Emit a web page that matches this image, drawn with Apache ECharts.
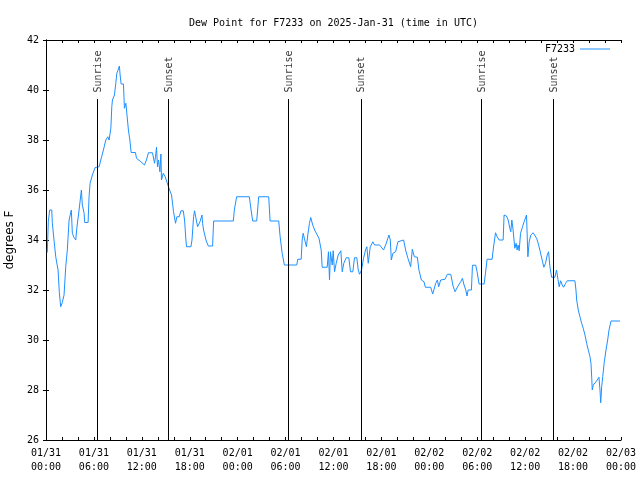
<!DOCTYPE html>
<html>
<head>
<meta charset="utf-8">
<script src="https://cdn.jsdelivr.net/npm/echarts@6/dist/echarts.min.js"></script>
<style>html,body{margin:0;padding:0;background:#fff}#c{width:640px;height:480px}</style>
</head>
<body>
<div id="c"></div>
<script>
// hours since 01/31 00:00 UTC
const hours = [0.16,0.29,0.46,0.72,0.79,1.00,1.22,1.51,1.67,1.84,2.04,2.26,2.47,2.67,2.89,3.17,3.30,3.51,3.73,3.85,4.14,4.43,4.55,4.77,4.85,5.27,5.39,5.52,5.81,6.15,6.65,6.86,7.19,7.49,7.74,7.90,8.12,8.24,8.32,8.57,8.74,8.87,9.03,9.19,9.28,9.41,9.70,9.82,10.00,10.12,10.32,10.50,10.66,11.20,11.33,11.88,12.33,12.58,12.83,13.33,13.59,13.71,13.84,13.96,14.09,14.26,14.39,14.46,14.68,14.93,15.22,15.43,15.72,15.97,16.22,16.39,16.68,16.90,17.19,17.35,17.52,17.60,18.15,18.28,18.48,18.60,18.85,18.98,19.28,19.53,19.61,19.73,20.03,20.32,20.86,20.99,23.46,23.58,23.87,25.46,25.68,25.88,26.38,26.50,26.63,27.89,28.06,29.14,29.32,29.57,29.85,31.40,31.52,31.95,32.08,32.20,32.40,32.61,32.78,32.99,33.15,33.40,33.68,33.93,34.18,34.46,34.58,35.21,35.37,35.50,35.62,35.84,35.96,36.13,36.34,36.59,36.92,37.09,37.29,37.59,37.92,38.13,38.42,38.63,38.92,39.10,39.26,39.51,39.76,40.01,40.18,40.35,40.60,40.93,41.14,41.77,42.27,42.61,42.81,42.94,43.11,43.24,43.44,43.78,44.07,44.19,44.78,45.03,45.32,45.66,45.87,46.12,46.50,46.70,47.00,47.33,47.50,48.17,48.42,48.80,49.01,49.17,49.42,49.96,50.26,50.68,50.97,51.22,51.59,51.93,52.14,52.35,52.56,52.72,52.85,53.27,53.40,53.81,53.98,54.23,54.86,55.03,55.23,55.86,56.07,56.29,56.49,56.74,57.24,57.36,57.66,57.87,58.08,58.20,58.33,58.49,58.70,58.87,58.99,59.12,59.25,59.42,59.67,59.87,60.17,60.34,60.50,60.71,61.00,61.21,61.43,61.63,61.84,62.18,62.34,62.55,62.76,62.93,63.10,63.31,63.72,63.93,64.10,64.26,64.44,64.64,64.81,65.07,65.27,66.23,66.36,66.45,66.65,66.86,67.07,67.27,67.49,67.70,67.90,68.12,68.24,68.33,68.40,68.53,68.87,69.24,69.37,69.46,69.58,69.71,69.91,70.12,70.33,70.50,70.75,71.88];
const dewPoint = [33.5,34.73,35.2,35.2,34.7,34.0,33.33,32.8,31.9,31.33,31.5,31.8,32.93,33.6,34.8,35.2,34.27,34.1,34.0,34.45,35.2,36.0,35.4,35.07,34.7,34.7,35.73,36.27,36.6,36.9,36.93,37.2,37.6,38.0,38.13,38.0,38.47,39.33,39.6,39.8,40.27,40.67,40.8,40.96,40.6,40.24,40.24,39.27,39.47,39.53,38.4,38.0,37.5,37.5,37.27,37.13,37.0,37.2,37.49,37.49,37.07,37.33,37.71,36.93,37.2,36.73,37.44,36.4,36.67,36.53,36.24,36.04,35.8,35.13,34.67,34.93,34.93,35.17,35.17,34.8,34.0,33.73,33.73,34.0,34.93,35.17,35.17,34.53,34.73,35.0,34.67,34.4,34.0,33.76,33.76,34.76,34.76,35.2,35.73,35.73,35.2,34.76,34.76,35.2,35.73,35.73,34.76,34.76,34.13,33.47,33.0,33.0,33.23,33.23,34.0,34.27,34.0,33.73,34.2,34.67,34.9,34.6,34.37,34.33,34.07,33.6,32.91,32.91,33.53,32.4,33.53,33.0,33.57,32.73,33.07,33.4,33.57,32.73,33.07,33.29,33.29,32.73,32.73,33.29,33.29,32.8,32.63,32.8,33.27,33.6,33.73,33.07,33.73,33.93,33.8,33.8,33.6,33.87,34.07,34.2,34.0,33.2,33.47,33.53,33.93,34.0,34.0,33.6,33.27,32.93,33.63,33.33,33.31,32.8,32.4,32.33,32.11,32.11,31.84,32.27,32.4,32.13,32.4,32.43,32.63,32.63,32.16,31.93,32.16,32.33,32.47,32.2,32.0,31.76,32.0,32.0,32.99,32.99,32.73,32.24,32.24,32.67,33.23,33.23,33.8,34.29,34.13,34.0,34.0,35.0,34.96,34.8,34.47,34.33,34.8,34.4,33.67,33.87,33.6,33.8,33.57,34.27,34.53,34.73,35.0,33.33,33.93,34.2,34.29,34.33,34.07,33.87,33.6,33.13,32.91,33.07,33.4,33.53,32.93,32.51,32.51,32.8,32.43,32.13,32.37,32.2,32.11,32.27,32.37,32.37,32.0,31.6,31.2,30.93,30.67,30.47,30.2,29.87,29.6,29.33,29.07,28.51,28.0,28.2,28.33,28.51,28.0,27.49,28.13,28.53,29.13,29.6,30.0,30.4,30.76,30.76];
const eventHours = [6.43, 15.34, 30.39, 39.43, 54.48, 63.51];
const eventNames = ['Sunrise','Sunset','Sunrise','Sunset','Sunrise','Sunset'];
const dayLabels = ['01/31','02/01','02/02','02/03'];
const seriesName = 'F7233';

const FONT = 'DejaVu Sans Mono';
const lineData = hours.map((h, i) => [h, dewPoint[i]]);
const eventLabelData = eventHours.map((h, i) => [h + 0.12, 39.9, eventNames[i]]);
const eventLines = eventHours.map(h => [{coord: [h, 26]}, {coord: [h, 39.64]}]);

function xLabel(v) {
  const d = Math.floor(v / 24);
  const hh = Math.round(v - d * 24);
  return dayLabels[d] + '\n' + String(hh).padStart(2, '0') + ':00';
}

const axisCommon = {
  axisLine: {show: true, lineStyle: {color: '#000', width: 1}},
  splitLine: {show: false}
};

const chart = echarts.init(document.getElementById('c'), null, {renderer: 'canvas'});
chart.setOption({
  animation: false,
  backgroundColor: '#fff',
  title: {
    text: 'Dew Point for F7233 on 2025-Jan-31 (time in UTC)',
    left: 184, top: 13,
    textStyle: {fontFamily: FONT, fontSize: 10, fontWeight: 'normal', color: '#000'}
  },
  legend: {
    data: [{name: seriesName, icon: 'rect'}],
    right: 30, top: 44, padding: 0,
    align: 'right',
    itemWidth: 30, itemHeight: 1,
    itemStyle: {color: '#1E90FF'},
    textStyle: {fontFamily: FONT, fontSize: 10, color: '#000'}
  },
  grid: {left: 46, right: 19, top: 40, bottom: 40, containLabel: false, outerBoundsMode: 'none'},
  xAxis: [
    Object.assign({}, axisCommon, {
      type: 'value', min: 0, max: 72, interval: 6, position: 'bottom',
      axisTick: {show: true, inside: true, length: 3, lineStyle: {color: '#000'}},
      minorTick: {show: true, splitNumber: 3, length: 3, lineStyle: {color: '#000'}},
      axisLabel: {formatter: xLabel, fontFamily: FONT, fontSize: 10, color: '#000', lineHeight: 14, margin: 6}
    }),
    Object.assign({}, axisCommon, {
      type: 'value', min: 0, max: 72, interval: 6, position: 'top',
      axisTick: {show: true, inside: true, length: 3, lineStyle: {color: '#000'}},
      minorTick: {show: true, splitNumber: 3, length: 3, lineStyle: {color: '#000'}},
      axisLabel: {show: false}
    })
  ],
  yAxis: [
    Object.assign({}, axisCommon, {
      type: 'value', min: 26, max: 42, interval: 2, position: 'left',
      name: 'degrees F', nameLocation: 'middle', nameGap: 29, nameRotate: 90,
      nameTextStyle: {fontFamily: 'DejaVu Sans', fontSize: 12, color: '#000'},
      axisTick: {show: true, inside: true, length: 3, lineStyle: {color: '#000'}},
      axisLabel: {fontFamily: FONT, fontSize: 10, color: '#000', margin: 7}
    }),
    Object.assign({}, axisCommon, {
      type: 'value', min: 26, max: 42, interval: 2, position: 'right',
      axisTick: {show: true, inside: true, length: 3, lineStyle: {color: '#000'}},
      axisLabel: {show: false}
    })
  ],
  series: [
    {
      name: seriesName,
      type: 'line',
      data: lineData,
      symbol: 'none',
      lineStyle: {color: '#1E90FF', width: 1},
      itemStyle: {color: '#1E90FF'},
      z: 3
    },
    {
      name: 'events',
      type: 'scatter',
      data: eventLabelData,
      symbolSize: 0,
      silent: true,
      label: {
        show: true, position: [0, 0], rotate: 90,
        align: 'left', verticalAlign: 'middle',
        formatter: p => p.data[2],
        fontFamily: FONT, fontSize: 10, color: '#000'
      },
      markLine: {
        silent: true,
        symbol: 'none',
        label: {show: false},
        lineStyle: {color: '#000', width: 1, type: 'solid'},
        data: eventLines
      },
      z: 2
    }
  ]
});
</script>
</body>
</html>
